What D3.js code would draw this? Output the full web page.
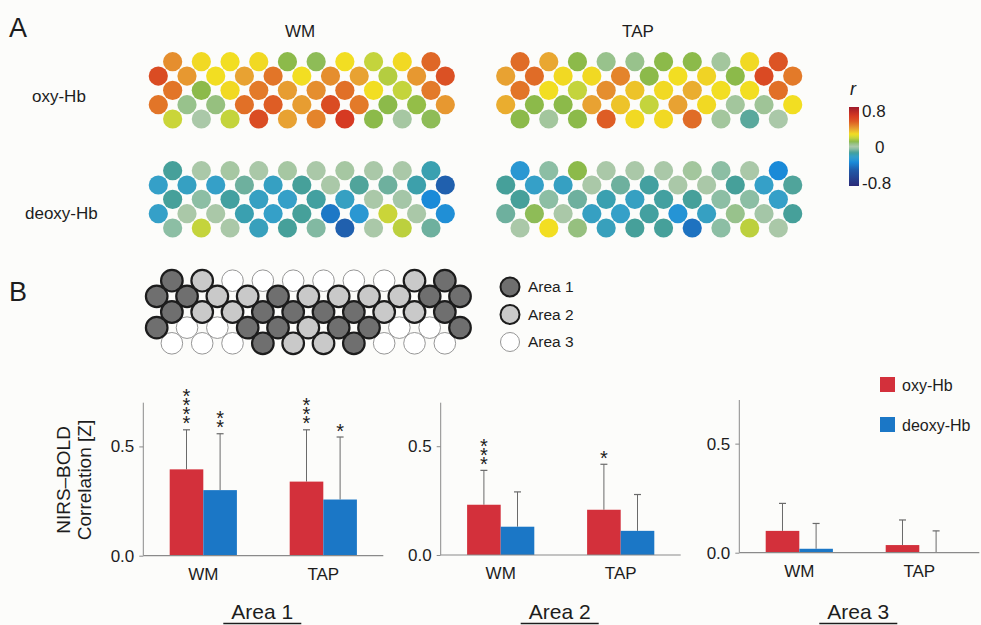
<!DOCTYPE html>
<html>
<head>
<meta charset="utf-8">
<script src="https://cdn.jsdelivr.net/npm/d3@7"></script>
<style>
  html, body { margin: 0; padding: 0; background: #fcfcfa; }
  svg { display: block; font-family: "Liberation Sans", Arial, sans-serif; }
</style>
</head>
<body>
<svg id="fig" width="981" height="625"></svg>
<script>
// ---- Channel correlation maps (r), rows of the 3x11 probe: 10,11,10,11,10 channels ----
const wmOxy = [
  [0.40, 0.26, 0.25, 0.26, 0.10, 0.09, 0.25, 0.17, 0.26, 0.48],
  [0.55, 0.38, 0.25, 0.36, 0.45, 0.25, 0.40, 0.36, 0.15, 0.38, 0.53],
  [0.45, 0.10, 0.26, 0.44, 0.37, 0.40, 0.46, 0.25, 0.17, 0.44],
  [0.45, 0.05, 0.06, 0.46, 0.50, 0.37, 0.55, 0.44, 0.10, 0.11, 0.38],
  [0.18, 0.00, 0.17, 0.55, 0.36, 0.42, 0.62, 0.10, 0.01, 0.09]
];
const tapOxy = [
  [0.47, 0.35, 0.10, 0.05, 0.05, 0.10, 0.10, 0.02, 0.26, 0.52],
  [0.36, 0.47, 0.26, 0.26, 0.42, 0.10, 0.25, 0.27, 0.10, 0.56, 0.44],
  [0.45, 0.25, 0.17, 0.40, 0.30, 0.26, 0.34, 0.25, 0.25, 0.46],
  [0.34, 0.10, 0.10, 0.36, 0.30, 0.17, 0.36, 0.26, 0.02, 0.03, 0.25],
  [0.10, 0.02, 0.10, 0.50, 0.26, 0.26, 0.47, 0.02, -0.10, 0.00]
];
const wmDeoxy = [
  [-0.12, 0.00, 0.01, 0.00, 0.01, 0.00, 0.01, 0.00, 0.00, -0.16],
  [-0.20, -0.19, -0.20, -0.08, -0.19, -0.12, 0.00, -0.11, -0.08, -0.15, -0.46],
  [-0.12, -0.05, -0.13, -0.19, -0.20, -0.13, -0.19, 0.00, -0.01, -0.32],
  [-0.20, 0.00, 0.00, -0.16, -0.20, -0.12, -0.38, -0.26, 0.18, 0.00, -0.30],
  [-0.05, 0.17, 0.00, -0.18, -0.12, -0.06, -0.46, 0.00, 0.16, -0.08]
];
const tapDeoxy = [
  [-0.26, -0.05, 0.10, 0.00, 0.00, 0.00, 0.02, -0.05, 0.00, -0.32],
  [-0.12, -0.20, -0.19, 0.00, -0.08, -0.13, 0.00, 0.00, -0.12, -0.20, -0.11],
  [-0.12, -0.05, -0.08, -0.16, -0.19, -0.13, -0.12, -0.05, -0.05, -0.20],
  [-0.08, 0.09, 0.00, -0.19, -0.20, -0.13, -0.28, -0.19, 0.05, -0.01, -0.12],
  [0.00, 0.25, 0.06, -0.18, -0.12, -0.12, -0.40, -0.05, 0.16, 0.00]
];
// Region membership of each channel (1, 2, 3)
const areaMap = [
  [1, 2, 3, 3, 3, 3, 3, 3, 2, 1],
  [1, 1, 2, 2, 1, 2, 2, 2, 2, 1, 1],
  [1, 2, 2, 1, 1, 1, 1, 2, 2, 1],
  [1, 3, 3, 1, 1, 2, 1, 1, 3, 3, 1],
  [3, 3, 3, 1, 2, 2, 1, 3, 3, 3]
];
const colorbarTicks = [0.8, 0, -0.8];
const colorbarLabels = ["0.8", "0", "-0.8"];

// ---- Bar chart data ----
const areas = ["Area 1", "Area 2", "Area 3"];
const conditions = ["WM", "TAP"];
const series = ["oxy-Hb", "deoxy-Hb"];
const oxyMean   = [[0.395, 0.339], [0.231, 0.208], [0.100, 0.035]];
const oxySD     = [[0.181, 0.237], [0.158, 0.209], [0.126, 0.115]];
const deoxyMean = [[0.300, 0.257], [0.130, 0.111], [0.018, 0.003]];
const deoxySD   = [[0.258, 0.286], [0.160, 0.167], [0.116, 0.097]];
const oxyStars   = [["****", "***"], ["***", "*"], ["", ""]];
const deoxyStars = [["**", "*"], ["", ""], ["", ""]];
const yTicks = [0.0, 0.5];

const svg = d3.select("#fig");
const FONT = "Liberation Sans, Arial, sans-serif";
const ink = "#1d1d1d";

// jet-like palette for r
const rColor = d3.scaleLinear()
  .domain([-0.8, -0.48, -0.4, -0.32, -0.27, -0.2, -0.16, -0.12, -0.08, -0.05, 0.0, 0.05, 0.10, 0.17, 0.25, 0.36, 0.45, 0.52, 0.62, 0.8])
  .range(["#2a2a78", "#205aa8", "#1e72c0", "#1a8ad8", "#2896d4", "#35a0c8", "#3aa0b0", "#46a09a", "#6eb09e", "#8cbea4",
          "#aac8a8", "#98c28c", "#8cba4a", "#c4d43c", "#f2de22", "#e8a232", "#e27528", "#dc5424", "#d63a22", "#9e1a2a"])
  .interpolate(d3.interpolateRgb)
  .clamp(true);

// flatten a row-layout into channels with lattice column/row indices
function channels(rows) {
  const out = [];
  rows.forEach((row, ri) => {
    row.forEach((v, k) => {
      const col = (ri % 2 === 0) ? 2 * k + 1 : 2 * k;
      out.push({ row: ri, col: col, v: v });
    });
  });
  return out;
}

function drawMap(rows, x0, y0) {
  const xs = d3.scaleLinear().domain([0, 20]).range([x0, x0 + 287]);
  const ys = d3.scaleLinear().domain([0, 4]).range([y0, y0 + 57.3]);
  svg.append("g").selectAll("circle")
    .data(channels(rows))
    .join("circle")
    .attr("cx", d => xs(d.col))
    .attr("cy", d => ys(d.row))
    .attr("r", 9.6)
    .attr("fill", d => rColor(d.v));
}

drawMap(wmOxy, 158.3, 61.7);
drawMap(tapOxy, 505.7, 61.7);
drawMap(wmDeoxy, 158.3, 170.7);
drawMap(tapDeoxy, 505.7, 170.7);

// panel letters and map labels
svg.append("text").attr("x", 9).attr("y", 37).attr("font-size", 27).attr("fill", ink).text("A");
svg.append("text").attr("x", 9).attr("y", 301).attr("font-size", 27).attr("fill", ink).text("B");
svg.append("text").attr("x", 300).attr("y", 37).attr("text-anchor", "middle").attr("font-size", 17).attr("fill", ink).text("WM");
svg.append("text").attr("x", 638).attr("y", 37).attr("text-anchor", "middle").attr("font-size", 17).attr("fill", ink).text("TAP");
svg.append("text").attr("x", 32).attr("y", 102).attr("font-size", 17).attr("fill", ink).text("oxy-Hb");
svg.append("text").attr("x", 25).attr("y", 219).attr("font-size", 17).attr("fill", ink).text("deoxy-Hb");

// colour bar
const defs = svg.append("defs");
const grad = defs.append("linearGradient").attr("id", "rgrad")
  .attr("x1", 0).attr("y1", 0).attr("x2", 0).attr("y2", 1);
d3.range(0, 1.0001, 0.02).forEach(t => {
  grad.append("stop").attr("offset", t).attr("stop-color", rColor(0.8 - 1.6 * t));
});
svg.append("rect").attr("x", 849).attr("y", 107).attr("width", 10).attr("height", 79).attr("fill", "url(#rgrad)");
const cbScale = d3.scaleLinear().domain([0.8, -0.8]).range([111, 183]);
svg.append("text").attr("x", 853).attr("y", 95).attr("font-size", 18).attr("font-style", "italic").attr("text-anchor", "middle").attr("fill", ink).text("r");
svg.append("g").selectAll("text").data(colorbarTicks).join("text")
  .attr("x", d => d === 0 ? 875 : 862)
  .attr("y", d => cbScale(d))
  .attr("dy", "0.36em")
  .attr("font-size", 17)
  .attr("fill", ink)
  .text((d, i) => colorbarLabels[i]);

// area map
(function () {
  const xs = d3.scaleLinear().domain([0, 20]).range([156.7, 460]);
  const ys = d3.scaleLinear().domain([0, 4]).range([280.7, 343.3]);
  const fills = { 1: "#6f6f6f", 2: "#c9c9c9", 3: "#ffffff" };
  const data = channels(areaMap).sort((a, b) => (b.v === 3) - (a.v === 3));
  svg.append("g").selectAll("circle").data(data).join("circle")
    .attr("cx", d => xs(d.col)).attr("cy", d => ys(d.row)).attr("r", 10.8)
    .attr("fill", d => fills[d.v])
    .attr("stroke", d => d.v === 3 ? "#8a8a8a" : "#1c1c1c")
    .attr("stroke-width", d => d.v === 3 ? 0.9 : 2.2);
  const leg = svg.append("g");
  [1, 2, 3].forEach((a, i) => {
    const y = 287 + i * 27.5;
    leg.append("circle").attr("cx", 510).attr("cy", y).attr("r", 9.5)
      .attr("fill", fills[a]).attr("stroke", a === 3 ? "#8a8a8a" : "#1c1c1c").attr("stroke-width", a === 3 ? 0.9 : 2);
    leg.append("text").attr("x", 528).attr("y", y).attr("dy", "0.35em").attr("font-size", 15.5).attr("fill", ink).text("Area " + a);
  });
})();

// bar panels
const panelAxisX = [143.3, 440.7, 739.3];
const panelZeroY = [555.7, 555.0, 552.7];
const panelTopY  = [402.7, 402.7, 400.0];
const seriesColor = { "oxy-Hb": "#d3303b", "deoxy-Hb": "#1b77c6" };

areas.forEach((area, ai) => {
  const ax = panelAxisX[ai];
  const g = svg.append("g").attr("transform", `translate(${ax},0)`);
  const y = d3.scaleLinear().domain([0, 0.7]).range([panelZeroY[ai], panelTopY[ai]]);
  const x = d3.scaleBand().domain(conditions).range([0, 240]).paddingInner(0.44).paddingOuter(0.22);
  const xs = d3.scaleBand().domain(series).range([0, x.bandwidth()]);

  const rows = [];
  conditions.forEach((c, ci) => {
    rows.push({ c, s: "oxy-Hb", m: oxyMean[ai][ci], sd: oxySD[ai][ci], stars: oxyStars[ai][ci] });
    rows.push({ c, s: "deoxy-Hb", m: deoxyMean[ai][ci], sd: deoxySD[ai][ci], stars: deoxyStars[ai][ci] });
  });
  const bx = d => x(d.c) + xs(d.s);
  const mid = d => bx(d) + xs.bandwidth() / 2;
  // error bars (upper only)
  g.append("g").selectAll("line").data(rows).join("line")
    .attr("x1", mid).attr("x2", mid)
    .attr("y1", d => y(d.m)).attr("y2", d => y(d.m + d.sd))
    .attr("stroke", "#6a6a6a").attr("stroke-width", 1);
  g.append("g").selectAll("line").data(rows).join("line")
    .attr("x1", d => mid(d) - 3.5).attr("x2", d => mid(d) + 3.5)
    .attr("y1", d => y(d.m + d.sd)).attr("y2", d => y(d.m + d.sd))
    .attr("stroke", "#6a6a6a").attr("stroke-width", 1.2);
  g.append("g").selectAll("rect").data(rows).join("rect")
    .attr("x", bx).attr("width", xs.bandwidth())
    .attr("y", d => y(d.m)).attr("height", d => Math.max(0, y(0) - y(d.m)))
    .attr("fill", d => seriesColor[d.s]);

  // significance stars, stacked vertically (upright vertical text)
  g.append("g").selectAll("text").data(rows.filter(d => d.stars.length)).join("text")
    .attr("x", mid)
    .attr("y", d => y(d.m + d.sd) - 8.5)
    .attr("text-anchor", "end")
    .style("writing-mode", "vertical-rl")
    .style("text-orientation", "upright")
    .style("letter-spacing", "-13px")
    .attr("font-size", 20)
    .attr("fill", ink)
    .text(d => d.stars);

  // axes
  const yAxis = d3.axisLeft(y).tickValues(yTicks).tickFormat(d3.format(".1f")).tickSize(4).tickPadding(5);
  const ya = g.append("g").call(yAxis);
  ya.select(".domain").attr("stroke", "#8a8a8a").attr("d", `M0,${y(0)}V${y(0.7)}`);
  ya.selectAll(".tick line").attr("stroke", "#8a8a8a");
  ya.selectAll(".tick text").attr("font-size", 17).attr("font-family", FONT).attr("fill", ink);
  g.append("line").attr("x1", 0).attr("x2", 240).attr("y1", y(0)).attr("y2", y(0))
    .attr("stroke", "#8a8a8a").attr("stroke-width", 1.2);
  g.append("g").selectAll("text").data(conditions).join("text")
    .attr("x", d => x(d) + x.bandwidth() / 2).attr("y", y(0) + 24)
    .attr("text-anchor", "middle").attr("font-size", 17).attr("fill", ink).text(d => d);

  // area label with underline
  const cx = 119;
  g.append("text").attr("x", cx).attr("y", 619).attr("text-anchor", "middle").attr("font-size", 21).attr("fill", ink).text(area);
  g.append("line").attr("x1", cx - 39).attr("x2", cx + 39).attr("y1", 623.5).attr("y2", 623.5)
    .attr("stroke", ink).attr("stroke-width", 1.6);
});

// y-axis title
svg.append("text").attr("transform", "translate(70,480) rotate(-90)").attr("text-anchor", "middle")
  .attr("font-size", 19).attr("fill", ink).text("NIRS–BOLD");
svg.append("text").attr("transform", "translate(91,480) rotate(-90)").attr("text-anchor", "middle")
  .attr("font-size", 19).attr("fill", ink).text("Correlation [Z]");

// legend
series.forEach((s, i) => {
  const yy = 385 + i * 40;
  svg.append("rect").attr("x", 880).attr("y", yy - 8).attr("width", 15).attr("height", 15).attr("fill", seriesColor[s]);
  svg.append("text").attr("x", 902).attr("y", yy).attr("dy", "0.35em").attr("font-size", 16).attr("fill", ink).text(s);
});
</script>
</body>
</html>
